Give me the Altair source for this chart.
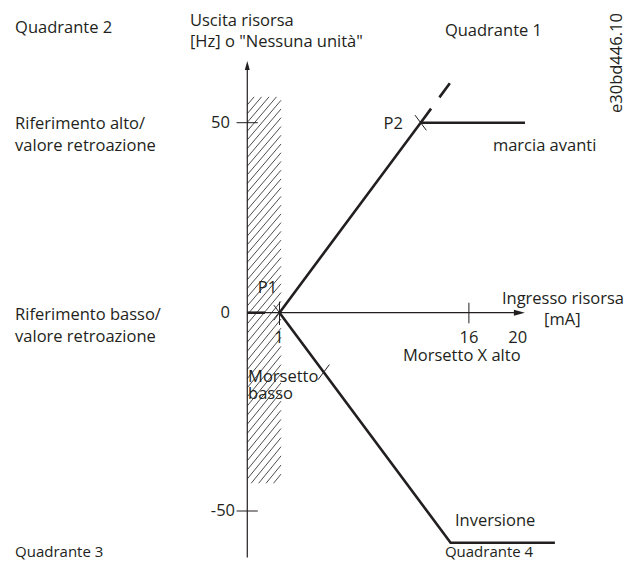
import altair as alt
import pandas as pd
import numpy as np

# ---- schematic values (x: input current in mA, y: output) ----
x_tick_values = [1, 16]
x_tick_labels = ["1", "16", "20"]
x_tick_label_pos = [0.96, 16.0, 19.86]
y_tick_values = [50, -50]
y_tick_labels = ["50", "0", "-50"]
y_tick_label_pos = [48.6, -1.34, -51.2]

forward_x = [1.0, 12.18, 20.44]
forward_y = [0.0, 50.0, 50.0]
extension_x = [12.18, 14.5]
extension_y = [50.0, 60.4]
reverse_x = [1.0, 14.55, 22.81]
reverse_y = [0.0, -58.0, -58.0]
clamp_x = [-1.55, -0.15]
clamp_y = [0.0, 0.0]
cross_x = [1.0, 12.18, 4.5]
cross_y = [0.0, 50.0, -15.0]

axis_x_pos = -1.55          # where the vertical axis stands (mA)
y_axis_range = [-61.7, 63.9]
x_axis_range = [-1.55, 19.6]
hatch_x = [-1.55, 1.12]
hatch_y = [-43.0, 56.8]

INK = "#231f20"
FONT = "Open Sans"
FS = 16.5

XS = alt.Scale(domain=[-20.5, 28.6], range=[0, 620], nice=False, zero=False)
YS = alt.Scale(domain=[-50, 0, 50], range=[503, 304.7, 114.7], nice=False, zero=False)


def X(f):
    return alt.X(f, type="quantitative", scale=XS, axis=None)


def Y(f):
    return alt.Y(f, type="quantitative", scale=YS, axis=None)


# ---- hatch lines (decoration) ----
XL, XR = hatch_x
YB, YT = hatch_y
k = 3.9
rows = []
c = YB - k * (XR - XL)
while c < YT:
    xs, ys = XL, c
    if c < YB:
        xs, ys = XL + (YB - c) / k, YB
    xe, ye = XR, c + k * (XR - XL)
    if ye > YT:
        xe, ye = XL + (YT - c) / k, YT
    if xe > xs:
        rows.append({"x": xs, "y": ys, "x2": xe, "y2": ye})
    c += 2.3
hatch_df = pd.DataFrame(rows)
hatch = alt.Chart(hatch_df).mark_rule(color=INK, strokeWidth=0.8).encode(
    x=X("x"), y=Y("y"), x2="x2", y2="y2")

# ---- axes ----
axes_df = pd.DataFrame([
    {"x": axis_x_pos, "y": y_axis_range[0], "x2": axis_x_pos, "y2": y_axis_range[1]},
    {"x": x_axis_range[0], "y": 0, "x2": x_axis_range[1], "y2": 0},
])
axes = alt.Chart(axes_df).mark_rule(color=INK, strokeWidth=1.2).encode(
    x=X("x"), y=Y("y"), x2="x2", y2="y2")

tick_rows = []
for v in y_tick_values:
    tick_rows.append({"x": -2.4, "y": v, "x2": -0.72, "y2": v})
tick_rows.append({"x": x_tick_values[0], "y": 2.9, "x2": x_tick_values[0], "y2": -3.1})
tick_rows.append({"x": x_tick_values[1], "y": 2.63, "x2": x_tick_values[1], "y2": -2.68})
ticks = alt.Chart(pd.DataFrame(tick_rows)).mark_rule(color=INK, strokeWidth=1).encode(
    x=X("x"), y=Y("y"), x2="x2", y2="y2")

arrow_up = alt.Chart(pd.DataFrame({"x": [axis_x_pos], "y": [65.05]})).mark_point(
    shape="M-0.55,1L0,-1L0.55,1Z", size=81, filled=True, color=INK, opacity=1
).encode(x=X("x"), y=Y("y"))
arrow_right = alt.Chart(pd.DataFrame({"x": [20.0], "y": [0.0]})).mark_point(
    shape="M-1,-0.55L1,0L-1,0.55Z", size=121, filled=True, color=INK, opacity=1
).encode(x=X("x"), y=Y("y"))

# ---- curves ----
curve_rows = []
for name, xs, ys in [("fwd", forward_x, forward_y), ("rev", reverse_x, reverse_y),
                     ("clamp", clamp_x, clamp_y)]:
    for i, (a, b) in enumerate(zip(xs, ys)):
        curve_rows.append({"seg": name, "i": i, "x": a, "y": b})
curves = alt.Chart(pd.DataFrame(curve_rows)).mark_line(
    color=INK, strokeWidth=2.6, strokeJoin="miter").encode(
    x=X("x"), y=Y("y"), detail="seg:N", order="i:Q")

ext = alt.Chart(pd.DataFrame({"x": extension_x, "y": extension_y, "i": [0, 1]})).mark_line(
    color=INK, strokeWidth=2.6, strokeDash=[17.5, 14]).encode(
    x=X("x"), y=Y("y"), order="i:Q")

crosses = alt.Chart(pd.DataFrame({"x": cross_x, "y": cross_y})).mark_point(
    shape="M-0.75,-1L0.75,1M-0.75,1L0.75,-1", size=230, filled=False,
    color=INK, strokeWidth=1, opacity=1).encode(x=X("x"), y=Y("y"))

# ---- labels ----
left_labels = pd.DataFrame([
    ("Quadrante 2", -19.94, 73.5),
    ("Uscita risorsa", -6.09, 75.4),
    ('[Hz] o "Nessuna unità"', -6.09, 69.9),
    ("Quadrante 1", 14.1, 72.9),
    ("Riferimento alto/", -19.94, 48.3),
    ("valore retroazione", -19.94, 42.6),
    ("marcia avanti", 17.9, 42.6),
    ("Riferimento basso/", -19.94, -1.84),
    ("valore retroazione", -19.94, -7.3),
    ("Morsetto X alto", 10.78, -12.2),
    ("Morsetto", -1.49, -17.5),
    ("basso", -1.49, -21.8),
    ("Inversione", 14.9, -53.9),
], columns=["t", "x", "y"])
bottom_labels = pd.DataFrame([
    ("Quadrante 3", -19.94, -61.6),
    ("Quadrante 4", 14.1, -61.6),
], columns=["t", "x", "y"])
right_labels = pd.DataFrame(
    [(y_tick_labels[0], -2.92, y_tick_label_pos[0]),
     (y_tick_labels[1], -2.92, y_tick_label_pos[1]),
     (y_tick_labels[2], -2.52, y_tick_label_pos[2]),
     ("P2", 10.77, 48.3)], columns=["t", "x", "y"])
center_labels = pd.DataFrame(
    [("P1", 0.05, 5.2),
     (x_tick_labels[0], x_tick_label_pos[0], -7.7),
     (x_tick_labels[1], x_tick_label_pos[1], -7.7),
     (x_tick_labels[2], x_tick_label_pos[2], -7.7),
     ("Ingresso risorsa", 23.45, 2.3),
     ("[mA]", 23.4, -3.1)], columns=["t", "x", "y"])


def txt(df, align, size=FS):
    return alt.Chart(df).mark_text(
        align=align, baseline="alphabetic", font=FONT, fontSize=size, color=INK
    ).encode(x=X("x"), y=Y("y"), text="t:N")


code = alt.Chart(pd.DataFrame({"t": ["e30bd446.10"], "x": [28.15], "y": [65.7]})).mark_text(
    align="center", baseline="alphabetic", font=FONT, fontSize=FS, color=INK, angle=270
).encode(x=X("x"), y=Y("y"), text="t:N")

chart = alt.layer(
    hatch, axes, ticks, arrow_up, arrow_right, curves, ext, crosses,
    txt(left_labels, "left"), txt(bottom_labels, "left", 15),
    txt(right_labels, "right"), txt(center_labels, "center"), code
).properties(
    width=620, height=553, padding=0, autosize="none"
).configure_view(stroke=None)

chart.save("out.html", embed_options={"renderer": "svg", "actions": False})
